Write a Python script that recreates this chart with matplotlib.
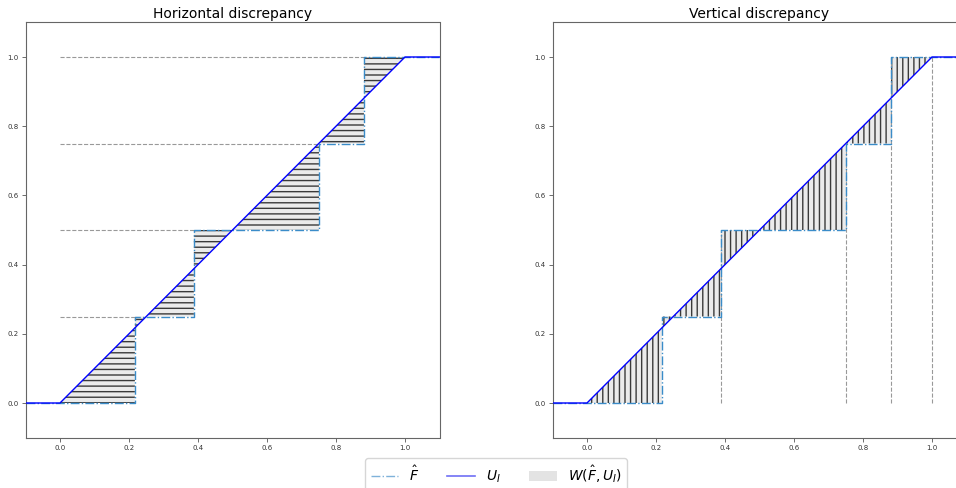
import matplotlib
matplotlib.use('Agg')
import matplotlib.pyplot as plt
from matplotlib.patches import Patch
from matplotlib.lines import Line2D
import numpy as np

# sorted sample and the ECDF levels it produces
samples = [0.217, 0.388, 0.751, 0.881]
levels = [0.0, 0.25, 0.5, 0.75, 1.0]
xticks = [0.0, 0.2, 0.4, 0.6, 0.8, 1.0]
titles = ['Horizontal discrepancy', 'Vertical discrepancy']

W, H = 956, 488
fig = plt.figure(figsize=(W / 100, H / 100), dpi=100)

ax_l = fig.add_axes([25.5 / W, (H - 437.6) / H, 414 / W, 415.2 / H])
ax_r = fig.add_axes([552.5 / W, (H - 437.6) / H, 414 / W, 415.2 / H])

ecdf_col = '#3a8cc9'
fill_col = '#ebebeb'
hatch_col = '#3a3a3a'
guide_col = '#999999'

step_x = [-0.1] + samples + [1.1]
step_y = levels + [1.0]

for ax, title in zip([ax_l, ax_r], titles):
    ax.set_xlim(-0.1, 1.1)
    ax.set_ylim(-0.1, 1.1)
    ax.set_xticks(xticks)
    ax.set_yticks(xticks)
    ax.tick_params(labelsize=5, length=3, width=0.6, color='#555555',
                   labelcolor='#333333', pad=2)
    for s in ax.spines.values():
        s.set_color('#666666')
        s.set_linewidth(0.8)
    ax.set_title(title, fontsize=10, pad=3)

# horizontal discrepancy: area between quantile functions
for k in range(len(samples)):
    y0, y1 = levels[k], levels[k + 1]
    ax_l.fill_betweenx([y0, y1], [y0, y1], samples[k], facecolor=fill_col,
                       edgecolor=hatch_col, hatch='---', linewidth=0, zorder=1)
    ax_l.plot([0, samples[k]], [y1, y1], color=guide_col, ls='--', lw=0.8, zorder=1.5)

# vertical discrepancy: area between the CDFs
edges = [0.0] + samples + [1.0]
for k in range(len(edges) - 1):
    x0, x1 = edges[k], edges[k + 1]
    ax_r.fill_between([x0, x1], [x0, x1], levels[k], facecolor=fill_col,
                      edgecolor=hatch_col, hatch='|||', linewidth=0, zorder=1)
for k in range(len(samples)):
    top = levels[k + 2] if k + 2 < len(levels) else 1.0
    ax_r.plot([edges[k + 2], edges[k + 2]], [0, top], color=guide_col, ls='--', lw=0.8, zorder=1.5)

for ax in [ax_l, ax_r]:
    ax.step(step_x, step_y, where='post', color=ecdf_col, ls='-.', lw=1.0, zorder=2)
    ux = [-0.1, 0.0, 1.0, 1.1]
    ax.plot(ux, np.clip(ux, 0, 1), color='blue', lw=1.0, zorder=3)

handles = [
    Line2D([], [], color='#7fb2da', ls='-.', lw=1.0),
    Line2D([], [], color='#6f6ff5', lw=1.2),
    Patch(facecolor='#e3e3e3', edgecolor='none'),
]
labels = [r'$\hat{F}$', r'$U_I$', r'$W(\hat{F},U_I)$']
fig.legend(handles, labels, loc='upper center', ncol=3, fontsize=10,
           bbox_to_anchor=(496 / W, 1 - 458 / H), borderaxespad=0, frameon=True)

fig.savefig('out.png', dpi=100)
